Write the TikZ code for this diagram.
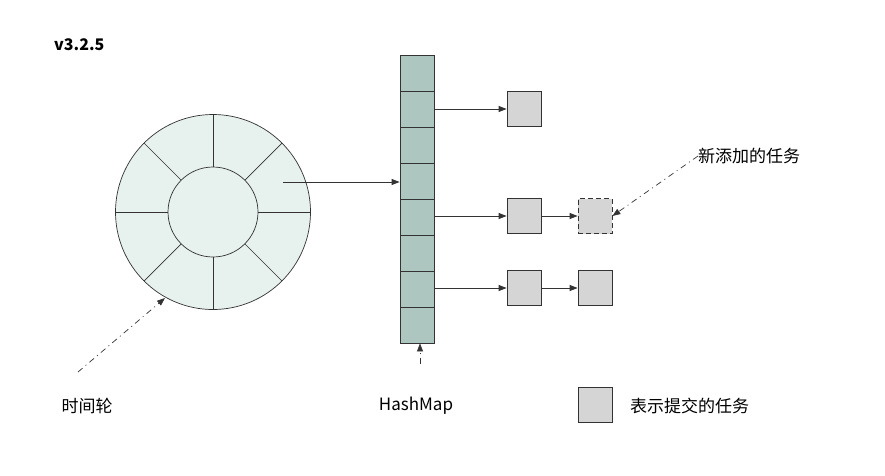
\documentclass[tikz,border=0pt]{standalone}
\usepackage{fontspec}
\setmainfont{Noto Sans CJK SC}
\usetikzlibrary{arrows.meta}
\definecolor{wheel}{HTML}{E7F1EE}
\definecolor{arr}{HTML}{AEC6C0}
\definecolor{task}{HTML}{D5D5D5}
\definecolor{ln}{HTML}{333333}
\begin{document}
\begin{tikzpicture}[x=1pt,y=-1pt,
  cell/.style={draw=ln,fill=arr,minimum width=34pt,minimum height=36pt,inner sep=0,line width=0.8pt},
  taskbox/.style={draw=ln,fill=task,minimum width=34pt,minimum height=35pt,inner sep=0,line width=0.8pt},
  conn/.style={draw=ln,line width=0.8pt,-{Triangle[length=8pt,width=6pt]}},
  dd/.style={draw=ln,line width=0.7pt,dash pattern=on 6pt off 4pt on 1pt off 4pt,-{Triangle[length=8pt,width=6pt]}},
  lbl/.style={font=\fontsize{17}{20}\selectfont,text=black,inner sep=0}]
\useasboundingbox (0,0) rectangle (885,475);
% wheel
\node[circle,draw=ln,fill=wheel,minimum size=195pt,inner sep=0,line width=0.7pt] (outer) at (213,212) {};
\foreach \a in {0,45,...,315}{
  \draw[ln,line width=0.7pt] (213,212) ++(\a:-45pt) -- ++(\a:-52.5pt);
}
\node[circle,draw=ln,fill=wheel,minimum size=90pt,inner sep=0,line width=0.7pt] (inner) at (213,212) {};
% array
\foreach \i in {0,...,7}{
  \node[cell] (c\i) at (417,{73+36*\i}) {};
}
\coordinate (ws) at (283,182);
\draw[conn] (ws) -- (c3.west |- ws);
% tasks
\node[taskbox] (t1) at (524,109) {};
\node[taskbox] (t2) at (524,216) {};
\node[taskbox,dashed,dash pattern=on 5pt off 3pt] (t3) at (595,216) {};
\node[taskbox] (t4) at (524,288) {};
\node[taskbox] (t5) at (595,288) {};
\draw[conn] (c1.east |- t1) -- (t1);
\draw[conn] (c4.east |- t2) -- (t2);
\draw[conn] (t2) -- (t3);
\draw[conn] (c6.east |- t4) -- (t4);
\draw[conn] (t4) -- (t5);
% labels
\node[font=\fontsize{16}{18}\selectfont\bfseries,anchor=west,inner sep=0] (ver) at (54,45) {v3.2.5};
\node[lbl,anchor=west] (newl) at (698,156) {新添加的任务};
\draw[dd] (newl.west) -- (t3.east);
\node[lbl] (wl) at (87,406) {时间轮};
\coordinate (wa) at (78,372);
\draw[dd] (wa) -- (165,298);
\node[lbl] (hm) at (416,406) {HashMap};
\draw[dd] (420,364) -- (c7.south -| 420,0);
\node[taskbox] (leg) at (595,405) {};
\node[lbl,anchor=west] (legl) at (630,406) {表示提交的任务};
\end{tikzpicture}
\end{document}
